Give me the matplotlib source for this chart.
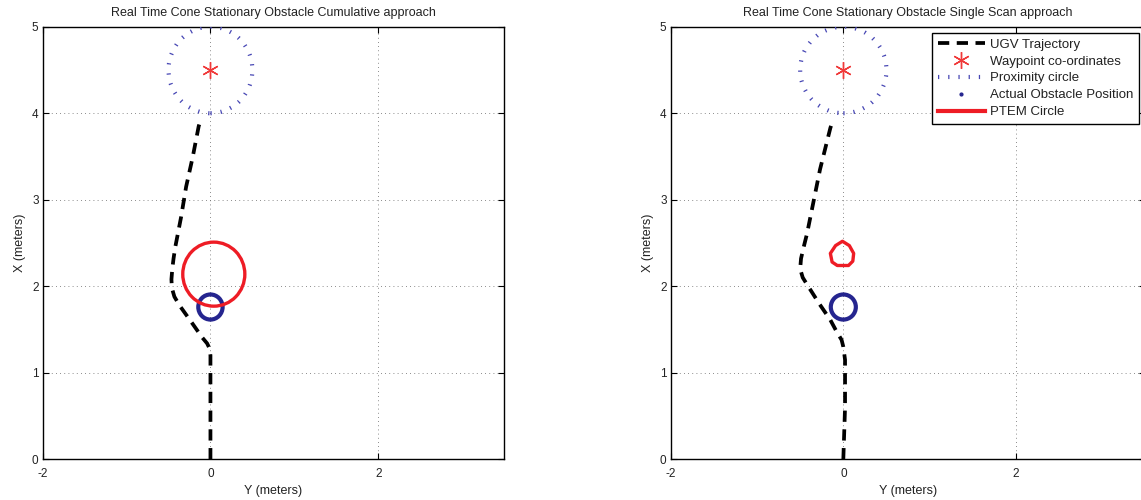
import numpy as np
import matplotlib
matplotlib.use("Agg")
from matplotlib import pyplot as plt
from matplotlib.patches import Circle, Polygon
from matplotlib.lines import Line2D

plt.rcParams['font.family'] = ['Liberation Sans', 'DejaVu Sans']
plt.rcParams['axes.unicode_minus'] = False

# UGV path, cumulative approach (lateral Y, forward X)
cum_y = [0.0, 0.0, 0.0, 0.0, -0.01, -0.04, -0.1, -0.23, -0.37, -0.43, -0.46, -0.465,
         -0.455, -0.44, -0.42, -0.35, -0.29, -0.21, -0.14, -0.13]
cum_x = [0.0, 0.5, 1.0, 1.2, 1.28, 1.34, 1.41, 1.59, 1.78, 1.88, 1.98, 2.08,
         2.2, 2.32, 2.45, 2.8, 3.15, 3.5, 3.85, 3.88]

# UGV path, single scan approach
ss_y = [0.0, 0.02, 0.02, 0.0, -0.02, -0.08, -0.15, -0.28, -0.42, -0.47, -0.5, -0.49,
        -0.46, -0.42, -0.27, -0.15, -0.14]
ss_x = [0.0, 0.6, 1.15, 1.3, 1.38, 1.48, 1.61, 1.8, 2.02, 2.1, 2.2, 2.32,
        2.45, 2.61, 3.35, 3.83, 3.86]

waypoint = (0.0, 4.5)
proximity_r = 0.5
obstacle = (0.0, 1.76)
obstacle_r = 0.145

# PTEM estimate, cumulative: circle
ptem_center = (0.04, 2.14)
ptem_r = 0.37
# PTEM estimate, single scan: outline points
ptem_ss_y = [-0.01, 0.07, 0.12, 0.11, 0.06, -0.07, -0.13, -0.15, -0.09]
ptem_ss_x = [2.52, 2.47, 2.38, 2.29, 2.24, 2.24, 2.28, 2.38, 2.47]

titles = ["Real Time Cone Stationary Obstacle Cumulative approach",
          "Real Time Cone Stationary Obstacle Single Scan approach"]
xticks = [-2, 0, 2]
yticks = [0, 1, 2, 3, 4, 5]

W, H = 1141, 500
fig = plt.figure(figsize=(W / 100, H / 100), dpi=100)
ax1 = fig.add_axes([42.7 / W, 1 - 459.3 / H, 461.3 / W, 432.6 / H])
ax2 = fig.add_axes([670.7 / W, 1 - 459.3 / H, 474.7 / W, 432.6 / H])

traj_kw = dict(color='black', lw=2.7, ls=(0, (3.0, 2.0)), dash_capstyle='butt')
prox_color = '#4646b4'
obs_color = '#25258f'
red = '#ee1c25'
star_color = '#f03a3a'
prox_ls = (0, (0.3, 2.15))
txt = '#222222'


def draw(ax, ty, tx, title):
    ax.plot(ty, tx, **traj_kw, zorder=4)
    ax.plot(*waypoint, marker=(6, 2, 0), ms=12, mew=1.0, color=star_color, ls='none', zorder=5)
    prox = Circle(waypoint, proximity_r, fill=False, ec=prox_color, lw=3.0, ls=prox_ls, zorder=3)
    prox.set_capstyle('butt')
    ax.add_patch(prox)
    ax.add_patch(Circle(obstacle, obstacle_r, fill=False, ec=obs_color, lw=3.0, zorder=4))
    ax.set_xlim(-2, 3.5)
    ax.set_ylim(0, 5)
    ax.set_xticks(xticks)
    ax.set_yticks(yticks)
    ax.tick_params(direction='in', length=4, width=0.8, top=True, right=True,
                   labelsize=8.5, colors='black', labelcolor=txt)
    ax.tick_params(axis='x', pad=6)
    ax.tick_params(axis='y', pad=3)
    ax.grid(True, color='#666666', ls=(0, (1, 4)), lw=0.6)
    for s in ax.spines.values():
        s.set_linewidth(1.0)
        s.set_color('black')
    ax.set_title(title, fontsize=9, pad=8, color=txt)
    ax.set_xlabel("Y (meters)", fontsize=9, labelpad=4, color=txt)
    ax.set_ylabel("X (meters)", fontsize=9, labelpad=4, color=txt)


draw(ax1, cum_y, cum_x, titles[0])
ax1.add_patch(Circle(ptem_center, ptem_r, fill=False, ec=red, lw=2.4, zorder=4))

draw(ax2, ss_y, ss_x, titles[1])
ax2.add_patch(Polygon(np.column_stack([ptem_ss_y, ptem_ss_x]), closed=True,
                      fill=False, ec=red, lw=2.4, joinstyle='round', zorder=4))

handles = [
    Line2D([], [], **traj_kw),
    Line2D([], [], marker=(6, 2, 0), ms=12, mew=1.0, color=star_color, ls='none'),
    Line2D([], [], color=prox_color, lw=3.0, ls=prox_ls, dash_capstyle='butt'),
    Line2D([], [], marker='.', ms=4, color=obs_color, ls='none'),
    Line2D([], [], color=red, lw=3.0),
]
labels = ["UGV Trajectory", "Waypoint co-ordinates", "Proximity circle",
          "Actual Obstacle Position", "PTEM Circle"]
leg = ax2.legend(handles, labels, loc='upper right', bbox_to_anchor=(1139 / W, 1 - 33 / H),
                 bbox_transform=fig.transFigure, borderaxespad=0, fontsize=9.5,
                 handlelength=3.6, handletextpad=0.4, labelspacing=0.36,
                 borderpad=0.4, fancybox=False, framealpha=1, edgecolor='black')
leg.get_frame().set_linewidth(1.0)
for t in leg.get_texts():
    t.set_color(txt)

fig.savefig("out.png", dpi=100)
